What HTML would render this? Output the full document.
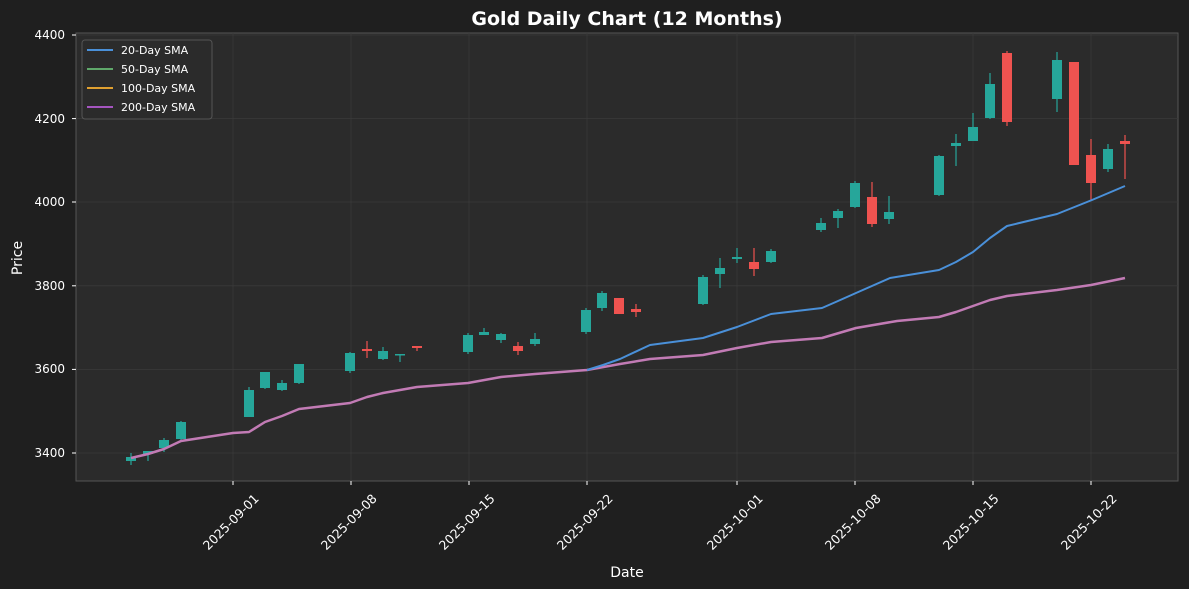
<!DOCTYPE html>
<html><head><meta charset="utf-8"><style>
html,body{margin:0;padding:0;background:#1f1f1f;}
svg{display:block;font-family:"DejaVu Sans","Liberation Sans",sans-serif;}
</style></head><body>
<svg width="1189" height="589" viewBox="0 0 1189 589" xmlns="http://www.w3.org/2000/svg">
<rect width="1189" height="589" fill="#1f1f1f"/>
<rect x="76" y="33" width="1102" height="448" fill="#2b2b2b" stroke="#555" stroke-width="1"/>
<g stroke="#3a3a3a" stroke-width="0.8">
<line x1="76" x2="1178" y1="453" y2="453"/><line x1="76" x2="1178" y1="369.4" y2="369.4"/>
<line x1="76" x2="1178" y1="285.8" y2="285.8"/><line x1="76" x2="1178" y1="202" y2="202"/>
<line x1="76" x2="1178" y1="118.6" y2="118.6"/><line x1="76" x2="1178" y1="35" y2="35"/>
<line y1="33" y2="481" x1="233" x2="233"/><line y1="33" y2="481" x1="351" x2="351"/>
<line y1="33" y2="481" x1="469" x2="469"/><line y1="33" y2="481" x1="587" x2="587"/>
<line y1="33" y2="481" x1="737" x2="737"/><line y1="33" y2="481" x1="855" x2="855"/>
<line y1="33" y2="481" x1="973" x2="973"/><line y1="33" y2="481" x1="1091" x2="1091"/>
</g>
<text x="627" y="25" fill="#fff" font-size="19" font-weight="bold" text-anchor="middle">Gold Daily Chart (12 Months)</text>
<g fill="#fff" font-size="12" text-anchor="end">
<text x="65" y="457">3400</text><text x="65" y="373">3600</text><text x="65" y="290">3800</text>
<text x="65" y="206">4000</text><text x="65" y="123">4200</text><text x="65" y="39">4400</text>
</g>
<g stroke="#fff" stroke-width="1">
<line x1="72" x2="76" y1="453" y2="453"/><line x1="72" x2="76" y1="369.4" y2="369.4"/><line x1="72" x2="76" y1="285.8" y2="285.8"/>
<line x1="72" x2="76" y1="202" y2="202"/><line x1="72" x2="76" y1="118.6" y2="118.6"/><line x1="72" x2="76" y1="35" y2="35"/>
<line y1="481" y2="485" x1="233" x2="233"/><line y1="481" y2="485" x1="351" x2="351"/><line y1="481" y2="485" x1="469" x2="469"/>
<line y1="481" y2="485" x1="587" x2="587"/><line y1="481" y2="485" x1="737" x2="737"/><line y1="481" y2="485" x1="855" x2="855"/>
<line y1="481" y2="485" x1="973" x2="973"/><line y1="481" y2="485" x1="1091" x2="1091"/>
</g>
<g fill="#fff" font-size="12.5" text-anchor="middle">
<text transform="translate(234,525) rotate(-45)">2025-09-01</text>
<text transform="translate(352,525) rotate(-45)">2025-09-08</text>
<text transform="translate(470,525) rotate(-45)">2025-09-15</text>
<text transform="translate(588,525) rotate(-45)">2025-09-22</text>
<text transform="translate(738,525) rotate(-45)">2025-10-01</text>
<text transform="translate(856,525) rotate(-45)">2025-10-08</text>
<text transform="translate(974,525) rotate(-45)">2025-10-15</text>
<text transform="translate(1092,525) rotate(-45)">2025-10-22</text>
</g>
<text x="627" y="577" fill="#fff" font-size="14" text-anchor="middle">Date</text>
<text transform="translate(22,258) rotate(-90)" fill="#fff" font-size="14" text-anchor="middle">Price</text>
<g stroke-width="1.2">
<line x1="131" x2="131" y1="453" y2="465" stroke="#26a69a"/><rect x="126" y="457" width="10" height="4" fill="#26a69a"/>
<line x1="148" x2="148" y1="451" y2="461" stroke="#26a69a"/><rect x="143" y="451" width="10" height="3" fill="#26a69a"/>
<line x1="164" x2="164" y1="438" y2="452" stroke="#26a69a"/><rect x="159" y="440" width="10" height="8" fill="#26a69a"/>
<line x1="181" x2="181" y1="421" y2="440" stroke="#26a69a"/><rect x="176" y="422" width="10" height="17" fill="#26a69a"/>
<line x1="249" x2="249" y1="387" y2="417" stroke="#26a69a"/><rect x="244" y="390" width="10" height="27" fill="#26a69a"/>
<line x1="265" x2="265" y1="372" y2="389" stroke="#26a69a"/><rect x="260" y="372" width="10" height="16" fill="#26a69a"/>
<line x1="282" x2="282" y1="380" y2="391" stroke="#26a69a"/><rect x="277" y="383" width="10" height="7" fill="#26a69a"/>
<line x1="299" x2="299" y1="364" y2="384" stroke="#26a69a"/><rect x="294" y="364" width="10" height="19" fill="#26a69a"/>
<line x1="350" x2="350" y1="352" y2="373" stroke="#26a69a"/><rect x="345" y="353" width="10" height="18" fill="#26a69a"/>
<line x1="367" x2="367" y1="341" y2="358" stroke="#ef5350"/><rect x="362" y="349" width="10" height="2" fill="#ef5350"/>
<line x1="383" x2="383" y1="347" y2="360" stroke="#26a69a"/><rect x="378" y="351" width="10" height="8" fill="#26a69a"/>
<line x1="400" x2="400" y1="354" y2="362" stroke="#26a69a"/><rect x="395" y="354" width="10" height="1.5" fill="#26a69a"/>
<line x1="417" x2="417" y1="346" y2="351" stroke="#ef5350"/><rect x="412" y="346" width="10" height="2" fill="#ef5350"/>
<line x1="468" x2="468" y1="333" y2="354" stroke="#26a69a"/><rect x="463" y="335" width="10" height="17" fill="#26a69a"/>
<line x1="484" x2="484" y1="328" y2="335" stroke="#26a69a"/><rect x="479" y="332" width="10" height="3" fill="#26a69a"/>
<line x1="501" x2="501" y1="333" y2="343" stroke="#26a69a"/><rect x="496" y="334" width="10" height="6" fill="#26a69a"/>
<line x1="518" x2="518" y1="342" y2="355" stroke="#ef5350"/><rect x="513" y="346" width="10" height="5" fill="#ef5350"/>
<line x1="535" x2="535" y1="333" y2="346" stroke="#26a69a"/><rect x="530" y="339" width="10" height="5" fill="#26a69a"/>
<line x1="586" x2="586" y1="308" y2="334" stroke="#26a69a"/><rect x="581" y="310" width="10" height="22" fill="#26a69a"/>
<line x1="602" x2="602" y1="291" y2="311" stroke="#26a69a"/><rect x="597" y="293" width="10" height="15" fill="#26a69a"/>
<line x1="619" x2="619" y1="298" y2="314" stroke="#ef5350"/><rect x="614" y="298" width="10" height="16" fill="#ef5350"/>
<line x1="636" x2="636" y1="304" y2="317" stroke="#ef5350"/><rect x="631" y="309" width="10" height="3" fill="#ef5350"/>
<line x1="703" x2="703" y1="275" y2="305" stroke="#26a69a"/><rect x="698" y="277" width="10" height="27" fill="#26a69a"/>
<line x1="720" x2="720" y1="258" y2="288" stroke="#26a69a"/><rect x="715" y="268" width="10" height="6" fill="#26a69a"/>
<line x1="737" x2="737" y1="248" y2="263" stroke="#26a69a"/><rect x="732" y="257" width="10" height="2" fill="#26a69a"/>
<line x1="754" x2="754" y1="248" y2="276" stroke="#ef5350"/><rect x="749" y="262" width="10" height="7" fill="#ef5350"/>
<line x1="771" x2="771" y1="249" y2="263" stroke="#26a69a"/><rect x="766" y="251" width="10" height="11" fill="#26a69a"/>
<line x1="821" x2="821" y1="218" y2="232" stroke="#26a69a"/><rect x="816" y="223" width="10" height="7" fill="#26a69a"/>
<line x1="838" x2="838" y1="209" y2="228" stroke="#26a69a"/><rect x="833" y="211" width="10" height="7" fill="#26a69a"/>
<line x1="855" x2="855" y1="181" y2="208" stroke="#26a69a"/><rect x="850" y="183" width="10" height="24" fill="#26a69a"/>
<line x1="872" x2="872" y1="182" y2="227" stroke="#ef5350"/><rect x="867" y="197" width="10" height="27" fill="#ef5350"/>
<line x1="889" x2="889" y1="196" y2="224" stroke="#26a69a"/><rect x="884" y="212" width="10" height="7" fill="#26a69a"/>
<line x1="939" x2="939" y1="155" y2="196" stroke="#26a69a"/><rect x="934" y="156" width="10" height="39" fill="#26a69a"/>
<line x1="956" x2="956" y1="134" y2="166" stroke="#26a69a"/><rect x="951" y="143" width="10" height="3" fill="#26a69a"/>
<line x1="973" x2="973" y1="113" y2="141" stroke="#26a69a"/><rect x="968" y="127" width="10" height="14" fill="#26a69a"/>
<line x1="990" x2="990" y1="73" y2="119" stroke="#26a69a"/><rect x="985" y="84" width="10" height="34" fill="#26a69a"/>
<line x1="1007" x2="1007" y1="51" y2="126" stroke="#ef5350"/><rect x="1002" y="53" width="10" height="69" fill="#ef5350"/>
<line x1="1057" x2="1057" y1="52" y2="112" stroke="#26a69a"/><rect x="1052" y="60" width="10" height="39" fill="#26a69a"/>
<line x1="1074" x2="1074" y1="62" y2="165" stroke="#ef5350"/><rect x="1069" y="62" width="10" height="103" fill="#ef5350"/>
<line x1="1091" x2="1091" y1="139" y2="200" stroke="#ef5350"/><rect x="1086" y="155" width="10" height="28" fill="#ef5350"/>
<line x1="1108" x2="1108" y1="144" y2="172" stroke="#26a69a"/><rect x="1103" y="149" width="10" height="20" fill="#26a69a"/>
<line x1="1125" x2="1125" y1="135" y2="179" stroke="#ef5350"/><rect x="1120" y="141" width="10" height="3" fill="#ef5350"/>
</g>
<polyline fill="none" stroke="#c27bb5" stroke-width="2.5" stroke-linejoin="round" points="131,458 148,454 164,449 181,441 233,433 249,432 265,422 282,416 299,409 350,403 367,397 383,393 400,390 417,387 468,383 501,377 535,374 587,370 620,364 650,359 703,355 737,348 771,342 822,338 856,328 897,321 939,317 956,312 973,306 990,300 1007,296 1057,290 1091,285 1125,278"/>
<polyline fill="none" stroke="#4a90d9" stroke-width="2" stroke-linejoin="round" points="587,370 603,365 620,359 650,345 703,338 737,327 771,314 822,308 838,301 856,293 890,278 939,270 956,262 973,252 990,238 1007,226 1057,214 1092,200 1125,186"/>
<rect x="82" y="40" width="130" height="79" rx="3" fill="#2b2b2b" stroke="#555"/>
<g font-size="11" fill="#fff">
<line x1="87" x2="113" y1="50" y2="50" stroke="#4a90d9" stroke-width="2"/><text x="121" y="54">20-Day SMA</text>
<line x1="87" x2="113" y1="69" y2="69" stroke="#5fa86a" stroke-width="2"/><text x="121" y="73">50-Day SMA</text>
<line x1="87" x2="113" y1="88" y2="88" stroke="#e0a030" stroke-width="2"/><text x="121" y="92">100-Day SMA</text>
<line x1="87" x2="113" y1="107" y2="107" stroke="#a555c0" stroke-width="2"/><text x="121" y="111">200-Day SMA</text>
</g>
</svg>
</body></html>
